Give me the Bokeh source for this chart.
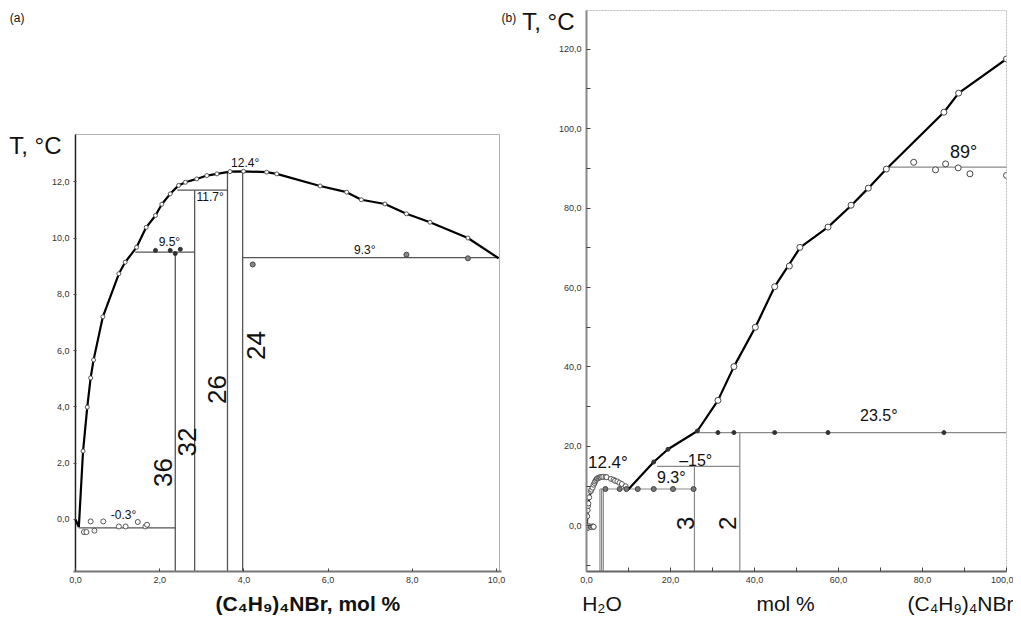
import math
from bokeh.plotting import figure
from bokeh.layouts import row
from bokeh.models import Label, FixedTicker, LinearAxis
from bokeh.embed import file_html
from bokeh.resources import INLINE

FONT = "Liberation Sans"

# ---------------- Panel (a) data ----------------
a_curve_x = [0.0, 0.08, 0.18, 0.28, 0.36, 0.43, 0.65, 1.03, 1.18, 1.45, 1.68, 1.90, 2.05, 2.25, 2.45,
             2.61, 2.88, 3.12, 3.36, 3.67, 3.99, 4.54, 4.78, 5.81, 6.44, 6.79, 7.35, 7.86, 8.42, 9.32, 10.05]
a_curve_y = [0.0, -0.27, 2.43, 3.99, 5.03, 5.67, 7.20, 8.73, 9.14, 9.67, 10.38, 10.80, 11.20, 11.57, 11.87,
             11.98, 12.10, 12.22, 12.28, 12.36, 12.37, 12.34, 12.28, 11.85, 11.63, 11.36, 11.21, 10.86, 10.56, 10.00, 9.28]
a_ice_x = [0.20, 0.26, 0.36, 0.45, 0.66, 1.03, 1.19, 1.48, 1.66, 1.70]
a_ice_y = [-0.45, -0.45, -0.07, -0.40, -0.07, -0.25, -0.25, -0.09, -0.25, -0.19]
a_h95_x = [1.90, 2.25, 2.37, 2.49]
a_h95_y = [9.56, 9.56, 9.45, 9.60]
a_h93_x = [4.21, 7.86, 9.32]
a_h93_y = [9.06, 9.41, 9.28]
a_hl_x0 = [0.08, 1.42, 2.42, 3.97]
a_hl_x1 = [2.37, 2.83, 3.61, 10.05]
a_hl_t = [-0.3, 9.5, 11.7, 9.3]
a_vl_x = [2.37, 2.83, 3.61, 3.97]
a_vl_top = [9.5, 11.7, 12.36, 12.4]
a_hyd_labels = ["36", "32", "26", "24"]
a_xticks = [0, 2, 4, 6, 8, 10]
a_yticks = [0, 2, 4, 6, 8, 10, 12]
a_xmax = 10.07
a_ymin, a_ymax = -1.85, 13.68

# ---------------- Panel (b) data ----------------
b_line_x = a_curve_x + [16.0, 19.4, 26.4, 31.3, 35.1, 40.2, 44.8, 50.9, 57.5, 63.1, 67.1, 71.4, 85.1, 88.6, 100.0]
b_line_y = a_curve_y + [16.1, 19.3, 23.9, 31.6, 40.1, 50.0, 60.2, 70.1, 75.2, 80.7, 85.0, 89.8, 104.1, 108.9, 117.5]
b_open_x = [31.3, 35.1, 40.2, 44.8, 48.3, 50.8, 57.5, 63.0, 67.1, 71.4, 85.1, 88.6, 100.0]
b_open_y = [31.6, 40.1, 50.0, 60.2, 65.4, 70.1, 75.2, 80.7, 85.0, 89.8, 104.1, 108.9, 117.5]
b_89_x = [77.9, 83.1, 85.5, 88.5, 91.3, 100.0]
b_89_y = [91.5, 89.6, 91.1, 90.1, 88.6, 88.2]
b_235_x = [31.3, 35.1, 44.8, 57.5, 85.1]
b_235_y = [23.5, 23.5, 23.5, 23.5, 23.5]
b_93_x = [4.5, 7.9, 9.5, 12.2, 16.0, 20.6, 25.5]
b_93_y = [9.3, 9.3, 9.3, 9.3, 9.3, 9.3, 9.3]
b_low_x = [16.0, 19.4, 26.4]
b_low_y = [16.1, 19.3, 23.9]
b_hl_x0 = [3.2, 16.8, 26.4, 71.4]
b_hl_x1 = [25.7, 36.5, 100.0, 100.0]
b_hl_t = [9.3, 15.0, 23.5, 90.3]
b_vl_x = [3.2, 3.6, 4.0, 25.7, 36.5]
b_vl_top = [9.3, 9.3, 9.3, 15.0, 23.5]
b_hyd_labels = ["3", "2"]
b_xticks = [0, 20, 40, 60, 80, 100]
b_xminor = [10, 30, 50, 70, 90]
b_yticks = [0, 20, 40, 60, 80, 100, 120]
b_yminor = [-10, 10, 30, 50, 70, 90, 110]
b_bottom_names = ["H₂O", "mol %", "(C₄H₉)₄NBr"]
b_bottom_pos = [3.7, 47.4, 90.0]


def fmt(v):
    return ("%.1f" % v).replace(".", ",")


def style_axes(p):
    p.grid.visible = False
    for ax in (p.xaxis, p.yaxis):
        ax.major_label_text_font = FONT
        ax.major_label_text_font_size = "9px"
        ax.major_label_text_color = "#333333"
        ax.major_tick_line_color = "#444444"
        ax.minor_tick_line_color = "#444444"


def text_axis(ticks, labels, size, standoff, bold=False):
    ax = LinearAxis(ticker=FixedTicker(ticks=ticks),
                    major_label_overrides=dict(zip(ticks, labels)))
    ax.axis_line_color = None
    ax.major_tick_line_color = None
    ax.minor_tick_line_color = None
    ax.major_tick_in = 0
    ax.major_tick_out = 0
    ax.minor_tick_in = 0
    ax.minor_tick_out = 0
    ax.major_label_standoff = standoff
    ax.major_label_text_font = FONT
    ax.major_label_text_font_size = size
    ax.major_label_text_color = "#111111"
    if bold:
        ax.major_label_text_font_style = "bold"
    return ax


# ---------------- Figure (a) ----------------
pa = figure(width=519, height=620, x_range=(-0.047, 10.118), y_range=(a_ymin, 18.085),
            output_backend="svg", toolbar_location=None,
            min_border_left=73, min_border_right=17, min_border_top=10, min_border_bottom=49)
style_axes(pa)
pa.xaxis.ticker = FixedTicker(ticks=a_xticks)
pa.yaxis.ticker = FixedTicker(ticks=a_yticks)
pa.xaxis.major_label_overrides = {t: fmt(t) for t in a_xticks}
pa.yaxis.major_label_overrides = {t: fmt(t) for t in a_yticks}
pa.xaxis.minor_tick_out = 0
pa.yaxis.minor_tick_out = 0
pa.xaxis.minor_tick_in = 0
pa.yaxis.minor_tick_in = 0
pa.xaxis.major_tick_in = 3
pa.xaxis.major_tick_out = 0
pa.yaxis.major_tick_in = 3
pa.yaxis.major_tick_out = 0
pa.yaxis.major_label_standoff = 4
pa.yaxis.axis_line_color = None
pa.xaxis.axis_line_color = "#777777"
pa.xaxis.axis_line_width = 2
pa.outline_line_color = None

# panel box (top and right edges light, left edge = temperature axis)
pa.line([0, a_xmax], [a_ymax, a_ymax], line_color="#b0b0b0", line_width=1)
pa.line([a_xmax, a_xmax], [a_ymin, a_ymax], line_color="#b0b0b0", line_width=1)
pa.line([0, 0], [a_ymin, a_ymax], line_color="#222222", line_width=1.5)

for x0, x1, t in zip(a_hl_x0, a_hl_x1, a_hl_t):
    pa.line([x0, x1], [t, t], line_color="#555555", line_width=1.3)
for x, top in zip(a_vl_x, a_vl_top):
    pa.line([x, x], [a_ymin, top], line_color="#555555", line_width=1.3)

pa.line(a_curve_x, a_curve_y, line_color="black", line_width=2.2)
pa.scatter(a_curve_x[2:-1], a_curve_y[2:-1], size=4, marker="circle",
           line_color="#555555", fill_color="white", line_width=1)
pa.scatter(a_ice_x, a_ice_y, size=5, marker="circle", line_color="#555555",
           fill_color="white", line_width=1)
pa.scatter(a_h95_x, a_h95_y, size=4, marker="circle", line_color="#333333",
           fill_color="#333333")
pa.scatter(a_h93_x, a_h93_y, size=5, marker="circle", line_color="#444444",
           fill_color="#888888")

a_hyd_pos = [(2.085, 1.67), (2.65, 2.75), (3.36, 4.62), (4.29, 6.18)]
for txt, (x, y) in zip(a_hyd_labels, a_hyd_pos):
    pa.add_layout(Label(x=x, y=y, text=txt, angle=math.pi / 2, text_align="center",
                        text_baseline="middle", text_font=FONT, text_font_size="26px",
                        text_color="#111111"))

a_notes = [("12.4°", 4.03, 12.65), ("11.7°", 3.2, 11.45), ("9.5°", 2.23, 9.85),
           ("9.3°", 6.87, 9.56), ("-0.3°", 1.14, 0.14)]
for txt, x, y in a_notes:
    pa.add_layout(Label(x=x, y=y, text=txt, text_align="center", text_baseline="middle",
                        text_font=FONT, text_font_size="12px", text_color="#111111"))

# texts outside the panel box, set on label-only axes
pa.add_layout(text_axis([13.29], ["T, °C"], "24px", -13), "left")
pa.add_layout(text_axis([17.83], ["(a)"], "12px", -18), "left")
pa.add_layout(text_axis([5.52], ["(C₄H₉)₄NBr, mol %"], "21px", 6, bold=True), "below")
pa.add_layout(text_axis([17.83], ["(b)"], "12px", 0), "right")

# ---------------- Figure (b) ----------------
pb = figure(width=494, height=620, x_range=(0, 100), y_range=(-11.45, 129.69),
            output_backend="svg", toolbar_location=None,
            min_border_left=67, min_border_right=7, min_border_top=10, min_border_bottom=49)
style_axes(pb)
pb.xaxis.ticker = FixedTicker(ticks=b_xticks, minor_ticks=b_xminor)
pb.yaxis.ticker = FixedTicker(ticks=b_yticks, minor_ticks=b_yminor)
pb.xaxis.major_label_overrides = {t: fmt(t) for t in b_xticks}
pb.yaxis.major_label_overrides = {t: fmt(t) for t in b_yticks}
for ax in (pb.xaxis, pb.yaxis):
    ax.major_tick_in = 4
    ax.major_tick_out = 0
    ax.minor_tick_in = 4
    ax.minor_tick_out = 0
pb.yaxis.axis_line_color = "#888888"
pb.yaxis.axis_line_width = 2
pb.xaxis.axis_line_color = "#666666"
pb.xaxis.axis_line_width = 2
pb.outline_line_color = "#b8b8b8"
pb.outline_line_width = 1
pb.outline_line_dash = "2 1"

for x0, x1, t in zip(b_hl_x0, b_hl_x1, b_hl_t):
    pb.line([x0, x1], [t, t], line_color="#8a8a8a", line_width=1.2)
for x, top in zip(b_vl_x, b_vl_top):
    pb.line([x, x], [-11.45, top], line_color="#8a8a8a", line_width=1.2)

pb.line(b_line_x, b_line_y, line_color="black", line_width=2.2)
pb.scatter(a_curve_x[2:-1], a_curve_y[2:-1], size=5, marker="circle",
           line_color="#555555", fill_color="white", line_width=1)
pb.scatter(a_ice_x, a_ice_y, size=5, marker="circle", line_color="#555555",
           fill_color="white", line_width=1)
pb.scatter(b_open_x, b_open_y, size=6, marker="circle", line_color="#444444",
           fill_color="white", line_width=1)
pb.scatter(b_89_x, b_89_y, size=6, marker="circle", line_color="#444444",
           fill_color="white", line_width=1)
pb.scatter(b_235_x, b_235_y, size=4, marker="circle", line_color="#333333",
           fill_color="#333333")
pb.scatter(b_93_x, b_93_y, size=5, marker="circle", line_color="#444444",
           fill_color="#777777")
pb.scatter(b_low_x, b_low_y, size=4, marker="circle", line_color="#333333",
           fill_color="#333333")

b_hyd_pos = [(23.6, 0.7), (33.6, 0.7)]
for txt, (x, y) in zip(b_hyd_labels, b_hyd_pos):
    pb.add_layout(Label(x=x, y=y, text=txt, angle=math.pi / 2, text_align="center",
                        text_baseline="middle", text_font=FONT, text_font_size="24px",
                        text_color="#111111"))

b_notes = [("12.4°", 5.1, 16.05, "17px"), ("9.3°", 20.2, 12.1, "16px"), ("–15°", 26.0, 16.5, "16px"),
           ("23.5°", 69.6, 27.8, "16px"), ("89°", 89.8, 94.0, "18px")]
for txt, x, y, fs in b_notes:
    pb.add_layout(Label(x=x, y=y, text=txt, text_align="center", text_baseline="middle",
                        text_font=FONT, text_font_size=fs, text_color="#111111"))

pb.add_layout(text_axis([126.9], ["T, °C"], "24px", -19), "left")
pb.add_layout(text_axis(b_bottom_pos, b_bottom_names, "21px", 6), "below")

layout = row(pa, pb)
open("out.html", "w").write(file_html(layout, INLINE))
